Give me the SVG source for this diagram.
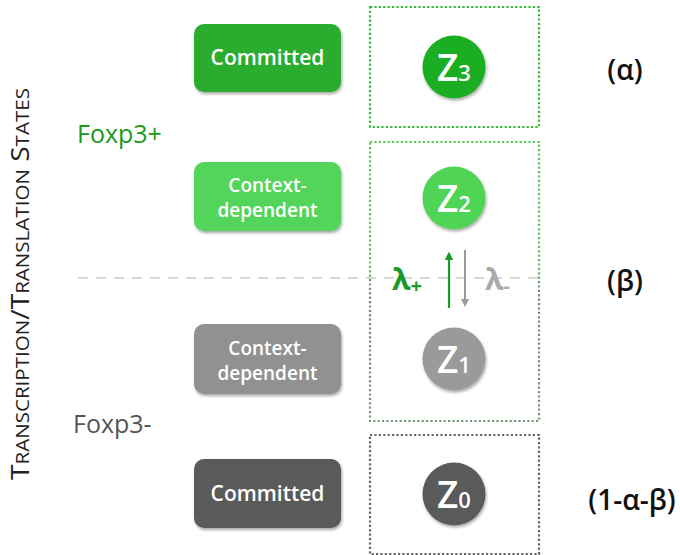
<svg xmlns="http://www.w3.org/2000/svg" width="680" height="555" viewBox="0 0 680 555">
<style>
.lbl{font-family:"Open Sans","Noto Sans","Liberation Sans",sans-serif;font-weight:600;fill:#fff;text-anchor:middle}
.z{font-family:"Open Sans","Noto Sans","Liberation Sans",sans-serif;font-weight:600;fill:#fff}
.par{font-family:"Open Sans","Noto Sans","Liberation Sans",sans-serif;font-weight:600;font-size:28px;fill:#111;text-anchor:middle}
.box{fill:none;stroke-width:2.2;stroke-dasharray:2.2 2.2}
</style>
<defs>
<filter id="sh" x="-20%" y="-20%" width="140%" height="150%">
<feDropShadow dx="1" dy="2" stdDeviation="1.5" flood-color="#000" flood-opacity="0.35"/>
</filter>
<linearGradient id="g2" x1="0" y1="0" x2="0" y2="1">
<stop offset="0" stop-color="#55cc55"/>
<stop offset="0.45" stop-color="#66bb66"/>
<stop offset="0.55" stop-color="#778877"/>
<stop offset="1" stop-color="#779977"/>
</linearGradient>
<marker id="ag" viewBox="0 0 10 10" refX="5" refY="5" markerWidth="4" markerHeight="4" orient="auto"><path d="M0,0 L10,5 L0,10 z" fill="#1a9a2a"/></marker>
<marker id="agr" viewBox="0 0 10 10" refX="5" refY="5" markerWidth="4" markerHeight="4" orient="auto"><path d="M0,0 L10,5 L0,10 z" fill="#9a9a9a"/></marker>
</defs>

<text transform="translate(29,284) rotate(-90)" text-anchor="middle" font-family="'Open Sans','Liberation Sans',sans-serif" fill="#222" textLength="392" lengthAdjust="spacingAndGlyphs"><tspan font-size="26">T</tspan><tspan font-size="19">RANSCRIPTION</tspan><tspan font-size="26">/T</tspan><tspan font-size="19">RANSLATION</tspan><tspan font-size="26"> S</tspan><tspan font-size="19">TATES</tspan></text>

<text x="77" y="143" font-family="'Open Sans','Liberation Sans',sans-serif" font-size="25" fill="#1a9a1a">Foxp3+</text>
<text x="73" y="433" font-family="'Open Sans','Liberation Sans',sans-serif" font-size="25" fill="#555">Foxp3-</text>

<line x1="78" y1="278" x2="540" y2="278" stroke="#cccccc" stroke-width="1.5" stroke-dasharray="10 8"/>

<rect class="box" x="370" y="7" width="169" height="120" stroke="#33bb33"/>
<rect class="box" x="370" y="142" width="169" height="279" stroke="url(#g2)"/>
<rect class="box" x="370" y="435" width="169" height="119" stroke="#666"/>

<g id="committed-plus"><rect x="194" y="24" width="147" height="68" rx="10" fill="#2aac2e" filter="url(#sh)"/><text class="lbl" x="267.5" y="65" font-size="21">Committed</text></g>
<g id="context-plus"><rect x="194" y="162" width="147" height="69" rx="10" fill="#52d45a" filter="url(#sh)"/><text class="lbl" x="267.5" y="192" font-size="19">Context-</text><text class="lbl" x="267.5" y="217" font-size="19">dependent</text></g>
<g id="context-minus"><rect x="194" y="324" width="147" height="70" rx="10" fill="#919191" filter="url(#sh)"/><text class="lbl" x="267.5" y="355" font-size="19">Context-</text><text class="lbl" x="267.5" y="380" font-size="19">dependent</text></g>
<g id="committed-minus"><rect x="194" y="459" width="147" height="69" rx="10" fill="#5a5a5a" filter="url(#sh)"/><text class="lbl" x="267.5" y="501" font-size="21">Committed</text></g>

<g id="z3"><circle cx="454" cy="67" r="31.5" fill="#1eae22" filter="url(#sh)"/><text class="z" x="437" y="81" font-size="37">Z<tspan font-size="22">3</tspan></text></g>
<g id="z2"><circle cx="454" cy="198" r="31.5" fill="#4fd455" filter="url(#sh)"/><text class="z" x="437" y="212" font-size="37">Z<tspan font-size="22">2</tspan></text></g>
<g id="z1"><circle cx="454" cy="359" r="31.5" fill="#9a9a9a" filter="url(#sh)"/><text class="z" x="437" y="373" font-size="37">Z<tspan font-size="22">1</tspan></text></g>
<g id="z0"><circle cx="454" cy="494" r="31.5" fill="#5a5a5a" filter="url(#sh)"/><text class="z" x="437" y="508" font-size="37">Z<tspan font-size="22">0</tspan></text></g>

<g id="connectors">
<line x1="449" y1="308" x2="449" y2="256" stroke="#1a9a2a" stroke-width="2.2" marker-end="url(#ag)"/>
<line x1="465" y1="250" x2="465" y2="303" stroke="#9a9a9a" stroke-width="2" marker-end="url(#agr)"/>
</g>

<text x="392" y="290" font-family="'Open Sans','Liberation Sans',sans-serif" font-weight="700" font-size="30" fill="#1a9a2a">λ<tspan font-size="20" dy="3">+</tspan></text>
<text x="485" y="290" font-family="'Open Sans','Liberation Sans',sans-serif" font-weight="700" font-size="30" fill="#aaaaaa">λ<tspan font-size="20" dy="3">-</tspan></text>

<text class="par" x="625" y="80">(α)</text>
<text class="par" x="625" y="291">(β)</text>
<text class="par" x="632" y="510">(1-α-β)</text>
</svg>
